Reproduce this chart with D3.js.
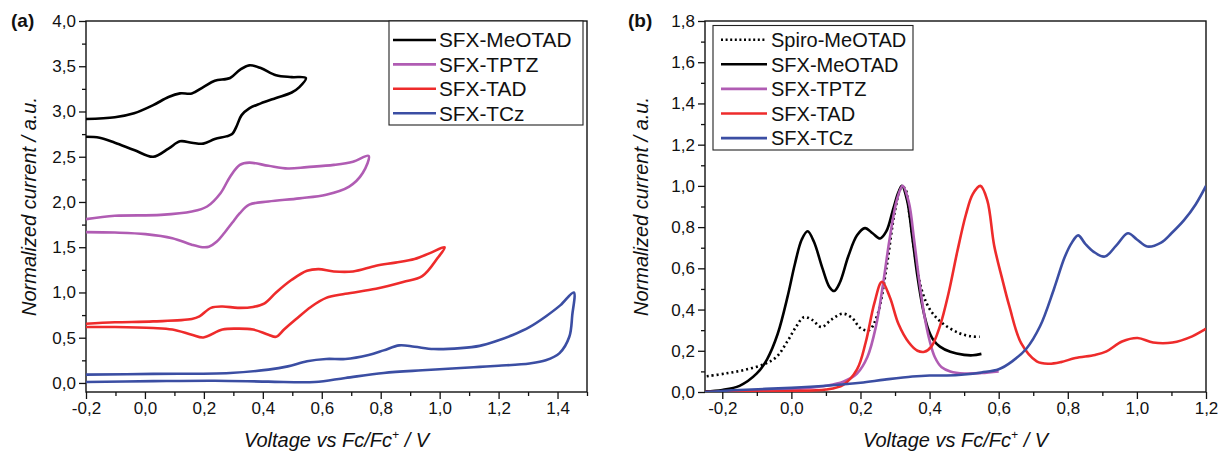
<!DOCTYPE html>
<html>
<head>
<meta charset="utf-8">
<script src="https://cdn.jsdelivr.net/npm/d3@7"></script>
<style>
body { margin: 0; background: #fff; }
svg { font-family: "Liberation Sans", Arial, Helvetica, sans-serif; }
</style>
</head>
<body>
<div id="chart"></div>
<script>
var WIDTH = 1218, HEIGHT = 456;

// (a) cyclic voltammograms, [V vs Fc/Fc+, normalized current]; forward sweep then reverse sweep
var cvMeOTAD = [[-0.2,2.917],[-0.102,2.936],[-0.037,2.98],[0.028,3.07],[0.08,3.16],[0.119,3.2],[0.159,3.2],
  [0.198,3.27],[0.237,3.34],[0.289,3.37],[0.322,3.46],[0.354,3.51],[0.393,3.48],[0.445,3.4],[0.498,3.38],[0.546,3.37],
  [0.524,3.27],[0.498,3.21],[0.445,3.15],[0.393,3.09],[0.354,3.035],[0.328,2.96],[0.31,2.83],[0.296,2.75],
  [0.276,2.725],[0.237,2.695],[0.198,2.645],[0.159,2.655],[0.119,2.67],[0.08,2.59],[0.028,2.5],[-0.037,2.575],
  [-0.102,2.655],[-0.154,2.71],[-0.2,2.72]];
var cvTPTZ = [[-0.2,1.81],[-0.102,1.847],[0.054,1.857],[0.159,1.894],[0.211,1.95],[0.257,2.1],[0.289,2.28],
  [0.322,2.41],[0.354,2.435],[0.419,2.4],[0.485,2.37],[0.55,2.385],[0.641,2.41],[0.706,2.445],[0.759,2.51],
  [0.739,2.32],[0.693,2.17],[0.615,2.08],[0.524,2.04],[0.419,2.005],[0.354,1.97],[0.322,1.876],[0.296,1.77],
  [0.27,1.66],[0.243,1.56],[0.217,1.505],[0.195,1.5],[0.159,1.527],[0.093,1.6],[0.002,1.645],[-0.102,1.662],[-0.2,1.667]];
var cvTAD = [[-0.2,0.655],[-0.102,0.67],[0.028,0.68],[0.159,0.706],[0.185,0.735],[0.224,0.83],[0.263,0.845],
  [0.315,0.83],[0.367,0.84],[0.406,0.88],[0.445,1.0],[0.498,1.14],[0.55,1.24],[0.589,1.258],[0.641,1.232],
  [0.706,1.232],[0.784,1.295],[0.85,1.33],[0.915,1.37],[0.967,1.435],[1.017,1.5],
  [0.993,1.38],[0.941,1.18],[0.876,1.115],[0.784,1.04],[0.68,0.985],[0.615,0.94],[0.563,0.84],[0.511,0.7],
  [0.472,0.59],[0.445,0.51],[0.419,0.533],[0.367,0.59],[0.315,0.6],[0.263,0.59],[0.198,0.503],[0.159,0.533],
  [0.093,0.59],[0.028,0.607],[-0.102,0.618],[-0.2,0.618]];
var cvTCz = [[-0.2,0.092],[0.028,0.1],[0.289,0.11],[0.419,0.147],[0.485,0.183],[0.55,0.24],[0.615,0.265],
  [0.68,0.265],[0.759,0.31],[0.81,0.36],[0.863,0.415],[0.915,0.4],[0.98,0.375],[1.071,0.385],[1.136,0.41],
  [1.19,0.46],[1.248,0.53],[1.306,0.62],[1.36,0.735],[1.41,0.86],[1.455,1.0],
  [1.45,0.75],[1.44,0.51],[1.407,0.33],[1.36,0.25],[1.305,0.215],[1.2,0.19],[1.136,0.178],[1.071,0.165],
  [0.941,0.14],[0.81,0.11],[0.68,0.055],[0.576,0.01],[0.419,0.015],[0.237,0.025],[0.028,0.02],[-0.2,0.01]];

// (b) differential pulse voltammograms
var dpvSpiro = [[-0.245,0.076],[-0.19,0.09],[-0.133,0.108],[-0.076,0.137],[-0.043,0.17],[-0.01,0.25],
  [0.015,0.32],[0.036,0.363],[0.06,0.35],[0.087,0.315],[0.115,0.35],[0.148,0.38],[0.175,0.36],[0.2,0.31],
  [0.225,0.3],[0.25,0.38],[0.275,0.6],[0.3,0.88],[0.318,0.99],[0.328,0.99],[0.342,0.86],[0.36,0.64],
  [0.38,0.48],[0.405,0.39],[0.44,0.33],[0.485,0.286],[0.52,0.27],[0.545,0.268]];
var dpvMeOTAD = [[-0.25,0.003],[-0.2,0.01],[-0.15,0.03],[-0.1,0.09],[-0.07,0.16],[-0.04,0.28],[-0.01,0.47],
  [0.01,0.62],[0.03,0.74],[0.047,0.78],[0.065,0.73],[0.09,0.6],[0.11,0.51],[0.124,0.49],[0.14,0.53],
  [0.165,0.66],[0.19,0.76],[0.213,0.795],[0.235,0.77],[0.257,0.745],[0.275,0.78],[0.295,0.89],[0.31,0.97],
  [0.32,1.0],[0.335,0.93],[0.35,0.75],[0.365,0.56],[0.38,0.41],[0.395,0.31],[0.41,0.255],[0.43,0.22],
  [0.46,0.195],[0.5,0.18],[0.525,0.178],[0.55,0.185]];
var dpvTPTZ = [[-0.25,0.0],[-0.1,0.005],[0.0,0.012],[0.05,0.02],[0.1,0.03],[0.15,0.05],[0.19,0.09],
  [0.22,0.17],[0.245,0.32],[0.265,0.52],[0.285,0.75],[0.305,0.93],[0.322,1.0],[0.34,0.92],[0.355,0.74],
  [0.37,0.54],[0.385,0.37],[0.4,0.25],[0.415,0.17],[0.435,0.12],[0.46,0.1],[0.5,0.09],[0.55,0.092],[0.6,0.1]];
var dpvTAD = [[-0.25,0.0],[-0.1,0.002],[0.0,0.005],[0.1,0.012],[0.15,0.035],[0.19,0.11],[0.215,0.24],
  [0.24,0.43],[0.262,0.535],[0.285,0.46],[0.31,0.33],[0.34,0.24],[0.365,0.2],[0.385,0.195],[0.405,0.22],
  [0.43,0.32],[0.455,0.48],[0.48,0.68],[0.505,0.86],[0.525,0.96],[0.547,1.0],[0.567,0.93],[0.587,0.71],
  [0.61,0.55],[0.631,0.415],[0.665,0.237],[0.71,0.149],[0.744,0.137],[0.78,0.145],[0.822,0.165],
  [0.879,0.18],[0.912,0.197],[0.957,0.245],[1.002,0.262],[1.047,0.24],[1.103,0.24],[1.16,0.27],[1.2,0.307]];
var dpvTCz = [[-0.25,0.0],[-0.15,0.01],[0.0,0.02],[0.1,0.03],[0.2,0.045],[0.27,0.06],[0.35,0.075],
  [0.4,0.08],[0.45,0.08],[0.5,0.085],[0.55,0.095],[0.6,0.11],[0.64,0.15],[0.68,0.21],[0.72,0.32],[0.76,0.5],
  [0.79,0.65],[0.81,0.72],[0.83,0.76],[0.85,0.72],[0.875,0.68],[0.907,0.657],[0.94,0.71],[0.974,0.77],
  [1.0,0.74],[1.03,0.706],[1.07,0.725],[1.1,0.77],[1.137,0.835],[1.17,0.91],[1.2,1.0]];

var NAMES_A = ["SFX-MeOTAD", "SFX-TPTZ", "SFX-TAD", "SFX-TCz"];
var NAMES_B = ["Spiro-MeOTAD", "SFX-MeOTAD", "SFX-TPTZ", "SFX-TAD", "SFX-TCz"];
var COLORS = {"Spiro-MeOTAD": "#000", "SFX-MeOTAD": "#000", "SFX-TPTZ": "#b05cb3",
  "SFX-TAD": "#ee2b2b", "SFX-TCz": "#3b4ea3"};

var SVG = d3.select("#chart").append("svg")
    .attr("width", WIDTH)
    .attr("height", HEIGHT);

var fmt = function (d) { return d3.format(".1f")(d).replace(".", ",").replace("\u2212", "-"); };

/**
 * Draw one panel: frame, axes with minor ticks, curves and legend.
 */
function drawPanel(p) {
    var x = d3.scaleLinear().domain(p.xDomain).range([p.left, p.right]);
    var y = d3.scaleLinear().domain(p.yDomain).range([p.bottom, p.top]);
    var g = SVG.append("g");

    g.append("clipPath").attr("id", "clip" + p.id)
        .append("rect").attr("x", p.left).attr("y", p.top)
        .attr("width", p.right - p.left).attr("height", p.bottom - p.top);

    // minor ticks
    g.append("g").attr("transform", "translate(0," + p.bottom + ")")
        .call(d3.axisBottom(x).tickValues(p.xMinor).tickSize(4).tickFormat(""));
    g.append("g").attr("transform", "translate(" + p.left + ",0)")
        .call(d3.axisLeft(y).tickValues(p.yMinor).tickSize(4).tickFormat(""));

    // major ticks
    var xa = g.append("g").attr("transform", "translate(0," + p.bottom + ")")
        .call(d3.axisBottom(x).tickValues(p.xTicks).tickSize(7).tickSizeOuter(0).tickFormat(fmt));
    var ya = g.append("g").attr("transform", "translate(" + p.left + ",0)")
        .call(d3.axisLeft(y).tickValues(p.yTicks).tickSize(7).tickSizeOuter(0).tickFormat(fmt));
    [xa, ya].forEach(function (a) {
        a.selectAll("text").attr("font-size", 17).attr("fill", "#111");
    });
    g.selectAll(".domain").remove();
    g.selectAll(".tick line").attr("stroke", "#111").attr("stroke-width", 1.3);

    // frame
    g.append("rect").attr("x", p.left).attr("y", p.top)
        .attr("width", p.right - p.left).attr("height", p.bottom - p.top)
        .attr("fill", "none").attr("stroke", "#111").attr("stroke-width", 1.4);

    var line = d3.line().x(function (d) { return x(d[0]); }).y(function (d) { return y(d[1]); })
        .curve(d3.curveCatmullRom.alpha(0.5));

    var curves = g.append("g").attr("clip-path", "url(#clip" + p.id + ")");
    p.series.forEach(function (s) {
        curves.append("path").attr("d", line(s.data))
            .attr("fill", "none").attr("stroke", COLORS[s.name]).attr("stroke-width", 2.6)
            .attr("stroke-linejoin", "round")
            .attr("stroke-dasharray", s.dotted ? "2,3" : null);
    });

    // axis titles
    var xt = g.append("text").attr("x", (p.left + p.right) / 2).attr("y", 447)
        .attr("text-anchor", "middle").attr("font-size", 20).attr("font-style", "italic").attr("fill", "#111");
    xt.append("tspan").text("Voltage vs Fc/Fc");
    xt.append("tspan").attr("font-size", 12).attr("dy", -8).text("+");
    xt.append("tspan").attr("dy", 8).text(" / V");

    g.append("text").attr("transform", "translate(" + p.yTitleX + "," + (p.top + p.bottom) / 2 + ") rotate(-90)")
        .attr("text-anchor", "middle").attr("font-size", 20).attr("font-style", "italic").attr("fill", "#111")
        .text("Normalized current / a.u.");

    g.append("text").attr("x", p.labelX).attr("y", 27).attr("font-size", 19).attr("font-weight", "bold")
        .attr("fill", "#111").text(p.label);

    // legend
    var L = p.legend;
    g.append("rect").attr("x", L.x0).attr("y", L.y0).attr("width", L.x1 - L.x0).attr("height", L.y1 - L.y0)
        .attr("fill", "#fff").attr("stroke", "#222").attr("stroke-width", 1.1);
    p.series.forEach(function (s, i) {
        var yy = L.first + i * L.step;
        g.append("line").attr("x1", L.lx0).attr("x2", L.lx1).attr("y1", yy).attr("y2", yy)
            .attr("stroke", COLORS[s.name]).attr("stroke-width", 2.6)
            .attr("stroke-dasharray", s.dotted ? "2,2.6" : null);
        g.append("text").attr("x", L.tx).attr("y", yy).attr("dy", "0.36em")
            .attr("font-size", L.font).attr("fill", "#111").text(s.name);
    });
}

drawPanel({
    id: "a", label: "(a)", labelX: 11, yTitleX: 36,
    left: 86, right: 587, top: 21, bottom: 392,
    xDomain: [-0.2, 1.5], yDomain: [-0.1, 4.0],
    xTicks: d3.range(-0.2, 1.45, 0.2), xMinor: d3.range(-0.1, 1.55, 0.2),
    yTicks: d3.range(0, 4.05, 0.5), yMinor: d3.range(0.25, 4.0, 0.5),
    series: [cvMeOTAD, cvTPTZ, cvTAD, cvTCz].map(function (d, i) { return {name: NAMES_A[i], data: d}; }),
    legend: {x0: 389, x1: 583, y0: 21, y1: 125, first: 40, step: 24.4, lx0: 393, lx1: 436, tx: 439, font: 20.8}
});

drawPanel({
    id: "b", label: "(b)", labelX: 628, yTitleX: 648,
    left: 705, right: 1206, top: 21, bottom: 392,
    xDomain: [-0.25, 1.2], yDomain: [0, 1.8],
    xTicks: d3.range(-0.2, 1.25, 0.2), xMinor: d3.range(-0.1, 1.15, 0.2),
    yTicks: d3.range(0, 1.85, 0.2), yMinor: d3.range(0.1, 1.75, 0.2),
    series: [dpvSpiro, dpvMeOTAD, dpvTPTZ, dpvTAD, dpvTCz].map(function (d, i) {
        return {name: NAMES_B[i], data: d, dotted: i === 0};
    }),
    legend: {x0: 713, x1: 913, y0: 25.5, y1: 150, first: 39.7, step: 24.6, lx0: 721, lx1: 767, tx: 771, font: 20}
});
</script>
</body>
</html>
